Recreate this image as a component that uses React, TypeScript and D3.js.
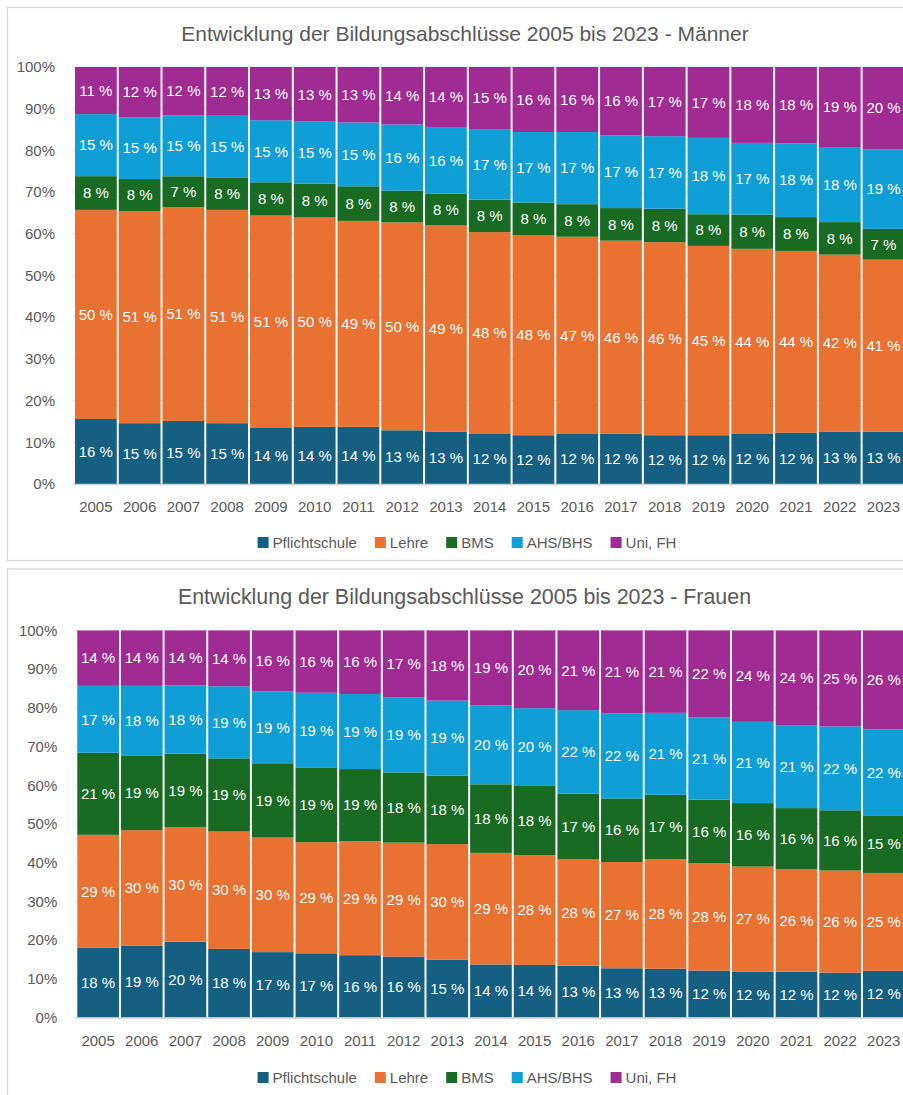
import React, { useEffect, useRef } from "react";
import * as d3 from "d3";

const years = ["2005","2006","2007","2008","2009","2010","2011","2012","2013","2014","2015","2016","2017","2018","2019","2020","2021","2022","2023"];
const seriesNames = ["Pflichtschule", "Lehre", "BMS", "AHS/BHS", "Uni, FH"];
const yTicks = [0, 10, 20, 30, 40, 50, 60, 70, 80, 90, 100];

// Männer
const mPflicht = [15.6,14.6,15.1,14.6,13.6,13.7,13.7,12.9,12.6,12.0,11.7,12.0,12.0,11.7,11.7,12.0,12.3,12.6,12.6];
const mLehre = [50.2,50.9,51.3,51.2,50.9,50.2,49.4,49.9,49.4,48.4,48.0,47.3,46.3,46.3,45.4,44.4,43.6,42.4,41.3];
const mBMS = [8.1,7.7,7.4,7.8,8.0,8.1,8.3,7.6,7.6,7.8,7.8,7.8,7.8,8.0,7.6,8.2,8.1,7.8,7.4];
const mAHS = [14.9,14.8,14.6,14.8,14.9,14.9,15.3,15.9,16.0,16.9,16.9,17.3,17.4,17.4,18.3,17.2,17.7,18.0,19.1];
const mUni = [11.3,12.1,11.6,11.7,12.8,13.1,13.3,13.8,14.4,14.9,15.6,15.6,16.4,16.6,17.0,18.2,18.3,19.2,19.8];

// Frauen
const fPflicht = [18.0,18.6,19.6,17.7,16.9,16.6,16.1,15.7,14.9,13.7,13.6,13.4,12.7,12.6,12.1,11.8,11.8,11.6,12.1];
const fLehre = [29.2,29.8,29.6,30.3,29.6,28.7,29.4,29.4,29.9,28.8,28.4,27.6,27.4,28.4,27.7,27.2,26.4,26.4,25.3];
const fBMS = [21.2,19.2,19.0,18.9,19.2,19.2,18.7,18.1,17.7,17.7,17.9,16.9,16.4,16.6,16.4,16.4,15.8,15.6,14.9];
const fAHS = [17.3,18.1,17.6,18.6,18.6,19.4,19.4,19.3,19.4,20.4,20.1,21.6,21.9,21.2,21.2,21.0,21.4,21.7,22.2];
const fUni = [14.3,14.3,14.2,14.4,15.7,16.1,16.4,17.3,18.1,19.3,20.1,20.6,21.4,21.3,22.4,23.6,24.4,24.8,25.6];

const colors = ["#156082", "#E97132", "#196B24", "#0F9ED5", "#A02B93"];
const FONT = "'Liberation Sans', Arial, sans-serif";
const GREY = "#595959";

type Cfg = {
  title: string;
  series: number[][];
  panel: [number, number, number, number];
  x0: number; x1: number; yTop: number; yBottom: number;
  titleY: number; titleX: number; titleSize: number;
  yLabelX: number; yearY: number; legendY: number; legendCx: number;
};

function drawChart(svg: d3.Selection<SVGSVGElement, unknown, null, undefined>, cfg: Cfg) {
  const g = svg.append("g");
  const [px, py, pw, ph] = cfg.panel;
  g.append("rect").attr("x", px).attr("y", py).attr("width", pw).attr("height", ph)
    .attr("fill", "#fff").attr("stroke", "#d9d9d9").attr("stroke-width", 1.3);

  g.append("text").attr("x", cfg.titleX).attr("y", cfg.titleY).attr("text-anchor", "middle")
    .attr("font-family", FONT).attr("font-size", cfg.titleSize).attr("fill", GREY).text(cfg.title);

  const rows = years.map((yr, i) => {
    const o: any = { year: yr };
    seriesNames.forEach((s, k) => (o[s] = cfg.series[k][i]));
    return o;
  });
  const stacked = d3.stack().keys(seriesNames).offset(d3.stackOffsetExpand)(rows);

  const x = d3.scaleBand().domain(years).range([cfg.x0, cfg.x1]).paddingInner(0.045).paddingOuter(0.0225);
  const y = d3.scaleLinear().domain([0, 1]).range([cfg.yBottom, cfg.yTop]);

  // gridlines
  g.append("g").selectAll("line").data(yTicks).join("line")
    .attr("x1", cfg.x0 - 1).attr("x2", cfg.x1 + 5)
    .attr("y1", (d) => y(d / 100)).attr("y2", (d) => y(d / 100))
    .attr("stroke", "#d9d9d9").attr("stroke-width", 1);

  // y labels
  g.append("g").selectAll("text").data(yTicks).join("text")
    .attr("x", cfg.yLabelX).attr("y", (d) => y(d / 100)).attr("dy", "0.35em")
    .attr("text-anchor", "end").attr("font-family", FONT).attr("font-size", 15).attr("fill", GREY)
    .text((d) => `${d}%`);

  // bars
  stacked.forEach((layer, k) => {
    const lg = g.append("g");
    lg.selectAll("rect").data(layer).join("rect")
      .attr("x", (d: any) => x(d.data.year)!)
      .attr("width", x.bandwidth())
      .attr("y", (d) => y(d[1]))
      .attr("height", (d) => y(d[0]) - y(d[1]))
      .attr("fill", colors[k]);
  });
  // baseline
  g.append("line").attr("x1", cfg.x0 - 1).attr("x2", cfg.x1 + 5)
    .attr("y1", cfg.yBottom + 0.5).attr("y2", cfg.yBottom + 0.5)
    .attr("stroke", "#c9d3d8").attr("stroke-width", 1.5);

  // labels
  stacked.forEach((layer, k) => {
    g.append("g").selectAll("text").data(layer).join("text")
      .attr("x", (d: any) => x(d.data.year)! + x.bandwidth() / 2)
      .attr("y", (d) => (y(d[0]) + y(d[1])) / 2)
      .attr("dy", "0.35em").attr("text-anchor", "middle")
      .attr("font-family", FONT).attr("font-size", 15).attr("fill", "#fff")
      .text((d: any, i) => `${Math.round(cfg.series[k][i])} %`);
  });

  // year labels
  g.append("g").selectAll("text").data(years).join("text")
    .attr("x", (d) => x(d)! + x.bandwidth() / 2).attr("y", cfg.yearY).attr("dy", "0.35em")
    .attr("text-anchor", "middle").attr("font-family", FONT).attr("font-size", 15).attr("fill", GREY)
    .text((d) => d);

  // legend
  const leg = g.append("g");
  const sq = 11, gapText = 4, gapItem = 18;
  const items = seriesNames.map((s, k) => {
    const ig = leg.append("g");
    ig.append("rect").attr("width", sq).attr("height", sq).attr("y", cfg.legendY - sq / 2).attr("fill", colors[k]);
    const t = ig.append("text").attr("x", sq + gapText).attr("y", cfg.legendY).attr("dy", "0.35em")
      .attr("font-family", FONT).attr("font-size", 15).attr("fill", GREY).text(s);
    const w = (t.node() as SVGTextElement).getComputedTextLength();
    return { ig, w: sq + gapText + w };
  });
  const total = d3.sum(items, (d) => d.w) + gapItem * (items.length - 1);
  let cx = cfg.legendCx - total / 2;
  items.forEach((it) => {
    it.ig.attr("transform", `translate(${cx},0)`);
    cx += it.w + gapItem;
  });
}

export default function App() {
  const ref = useRef<SVGSVGElement>(null);
  useEffect(() => {
    const svg = d3.select(ref.current!);
    svg.selectAll("*").remove();
    drawChart(svg as any, {
      title: "Entwicklung der Bildungsabschlüsse 2005 bis 2023 - Männer",
      series: [mPflicht, mLehre, mBMS, mAHS, mUni],
      panel: [7.5, 7.5, 910, 553],
      x0: 74, x1: 905.4, yTop: 67, yBottom: 484,
      titleY: 41, titleX: 465, titleSize: 21,
      yLabelX: 55, yearY: 507, legendY: 542.5, legendCx: 467,
    });
    drawChart(svg as any, {
      title: "Entwicklung der Bildungsabschlüsse 2005 bis 2023 - Frauen",
      series: [fPflicht, fLehre, fBMS, fAHS, fUni],
      panel: [7.5, 569, 910, 560],
      x0: 76.3, x1: 905.6, yTop: 630.5, yBottom: 1017.5,
      titleY: 603.5, titleX: 464.5, titleSize: 21.4,
      yLabelX: 57.3, yearY: 1041, legendY: 1077.5, legendCx: 467,
    });
  }, []);
  return (
    <svg ref={ref} width={903} height={1095}
      style={{ position: "absolute", left: 0, top: 0, display: "block", background: "#fff" }} />
  );
}
